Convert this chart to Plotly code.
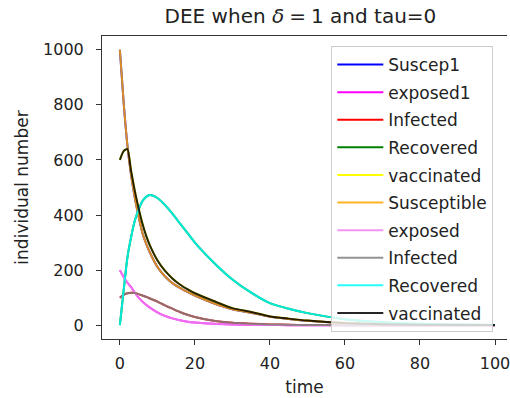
import plotly.graph_objects as go

# Time grid and compartment sizes of the SEIRV model (delta = 1, tau = 0)
time = [0, 1, 2, 3, 4, 5, 6, 7, 8, 10, 12, 14, 16, 18, 20, 25, 30, 35, 40, 45, 50, 60, 70, 80, 90, 100]
susceptible = [1000, 810, 655, 545, 462, 395, 336, 296, 264, 212, 178, 153, 136, 121, 108, 80, 58, 45, 31, 23, 16, 7.5, 3.5, 1.7, 0.8, 0.4]
exposed = [200, 175, 155, 138, 118, 100, 86, 74, 64, 47, 34, 25, 18, 13, 10, 5, 2.5, 1.2, 0.6, 0.3, 0.2, 0.1, 0.05, 0.02, 0.01, 0.0]
infected = [100, 110, 116, 118, 117, 113, 108, 103, 97, 86, 72, 60, 48, 38, 30, 16, 9, 5.5, 3, 1.6, 0.9, 0.3, 0.1, 0.05, 0.02, 0.01]
recovered = [0, 125, 245, 320, 380, 420, 450, 466, 473, 462, 437, 405, 370, 335, 300, 228, 166, 118, 80, 60, 44, 22, 11, 5, 2.5, 1.2]
vaccinated = [600, 632, 640, 560, 487, 425, 370, 325, 290, 236, 198, 170, 148, 131, 116, 88, 62, 48, 32, 24, 17, 8, 4, 2, 1, 0.5]

series = [susceptible, exposed, infected, recovered, vaccinated]
names_first = ["Suscep1", "exposed1", "Infected", "Recovered", "vaccinated"]
colors_first = ["#0000ff", "#ff00ff", "#ff0000", "#008000", "#ffff00"]
names_second = ["Susceptible", "exposed", "Infected", "Recovered", "vaccinated"]
colors_second = ["#ffa500", "#ee82ee", "#808080", "#00ffff", "#000000"]

x_ticks = [0, 20, 40, 60, 80, 100]
y_ticks = [0, 200, 400, 600, 800, 1000]

FONT = "DejaVu Sans"

fig = go.Figure()
k = 0
for name, color, values in zip(names_first, colors_first, series):
    fig.add_trace(go.Scatter(x=time, y=values, mode="lines", name=name,
                             line=dict(color=color, width=2, shape="spline", smoothing=0.6),
                             legendgroup=f"g{k}"))
    k += 1
for name, color, values in zip(names_second, colors_second, series):
    fig.add_trace(go.Scatter(x=time, y=values, mode="lines", name=name,
                             line=dict(color=color, width=2, shape="spline", smoothing=0.6),
                             opacity=0.85, legendgroup=f"g{k}"))
    k += 1

axis_common = dict(
    showgrid=False, zeroline=False, showline=True, linecolor="#333333", linewidth=1,
    ticks="outside", ticklen=5, tickwidth=1, tickcolor="#333333",
    tickfont=dict(family=FONT, size=16, color="#222222"),
    ticklabeloverflow="allow",
)

fig.update_layout(
    width=510, height=398,
    margin=dict(l=102, r=0, t=36, b=59),
    paper_bgcolor="white", plot_bgcolor="white",
    title=dict(text="DEE when <i>δ</i>\u2005=\u20051 and tau=0", x=0.49, xref="paper",
               y=1 - 16 / 398, yref="container", xanchor="center", yanchor="middle",
               font=dict(family=FONT, size=20, color="#222222")),
    xaxis=dict(range=[-4.76, 103.2], tickvals=x_ticks, mirror=True, ticklabelstandoff=5,
               title=dict(text="time", standoff=8, font=dict(family=FONT, size=17, color="#222222")),
               **axis_common),
    yaxis=dict(range=[-50, 1050], tickvals=y_ticks, ticklabelstandoff=9,
               title=dict(text="individual number", standoff=10, font=dict(family=FONT, size=17, color="#222222")),
               **axis_common),
    legend=dict(x=(333 - 102) / 408, y=(339 - 46) / 303, xanchor="left", yanchor="top",
                bgcolor="rgba(255,255,255,0.8)", bordercolor="#cccccc", borderwidth=1,
                font=dict(family=FONT, size=17, color="#222222"),
                traceorder="grouped", tracegroupgap=2.5, itemwidth=46,
                entrywidth=170, entrywidthmode="pixels"),
)

fig.write_html("out.html")
